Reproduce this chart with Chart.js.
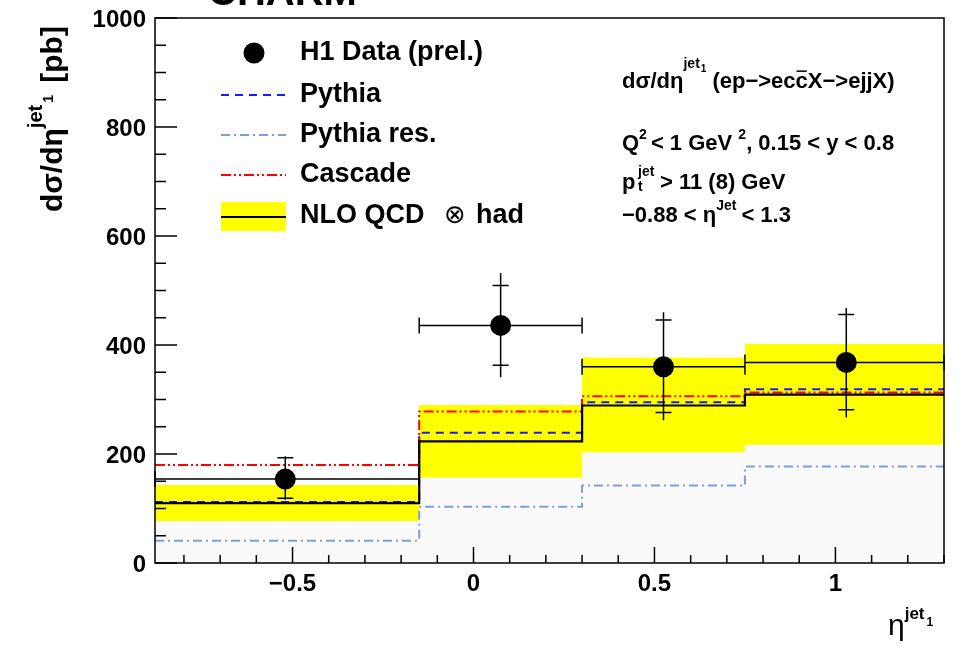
<!DOCTYPE html>
<html>
<head>
<meta charset="utf-8">
<script src="https://cdn.jsdelivr.net/npm/chart.js@4.4.0/dist/chart.umd.min.js"></script>
<style>
  html, body { margin: 0; padding: 0; background: #fff; }
  #wrap { width: 960px; height: 647px; }
</style>
</head>
<body>
<div id="wrap"><canvas id="c" width="960" height="647"></canvas></div>
<script>
// bins in eta(jet1) and the model predictions per bin (pb)
var binEdges = [-0.88, -0.15, 0.3, 0.75, 1.3];
var nloCentral = [110, 223, 289, 309];
var nloUp = [143, 290, 377, 402];
var nloDown = [77, 157, 203, 217];
var pythia = [112, 239, 295, 319];
var pythiaRes = [41, 103, 142, 177];
var cascade = [180, 278, 306, 313];

// H1 data points with inner (stat) and outer (total) error ends
var dataX = [-0.52, 0.075, 0.525, 1.03];
var dataY = [154, 436, 360, 368];
var statHi = [193, 509, 446, 456];
var statLo = [119, 363, 276, 281];
var totHi = [196, 532, 460, 468];
var totLo = [116, 341, 262, 267];

var xTicks = [-0.5, 0, 0.5, 1];
var xTickLabels = ['\u22120.5', '0', '0.5', '1'];
var yTicks = [0, 200, 400, 600, 800, 1000];
var yTickLabels = ['0', '200', '400', '600', '800', '1000'];

var FONT = '"Liberation Sans", Arial, "DejaVu Sans", sans-serif';

function steps(vals) {
    return binEdges.map(function (x, i) {
        return { x: x, y: vals[Math.min(i, vals.length - 1)] };
    });
}

// text with super/subscripts, parts drawn one after another
function rich(ctx, x, y, parts) {
    parts.forEach(function (p) {
        ctx.font = (p.w || 'bold') + ' ' + p.s + 'px ' + FONT;
        var w = ctx.measureText(p.t).width;
        var yy = y + (p.dy || 0);
        ctx.fillText(p.t, x, yy);
        if (p.over) ctx.fillRect(x + 1, yy - p.s * 0.8, w - 2, 1.5);
        x += w + (p.gap || 0);
    });
    return x;
}

var errorBars = {
    id: 'errorBars',
    beforeDatasetDraw: function (chart, args) {
        if (args.index !== 0) return;
        var ctx = chart.ctx, xs = chart.scales.x, ys = chart.scales.y;
        ctx.save();
        ctx.strokeStyle = '#000';
        ctx.lineWidth = 1.5;
        ctx.beginPath();
        for (var i = 0; i < dataX.length; i++) {
            var px = xs.getPixelForValue(dataX[i]);
            var py = ys.getPixelForValue(dataY[i]);
            var x0 = xs.getPixelForValue(binEdges[i]);
            var x1 = xs.getPixelForValue(binEdges[i + 1]);
            ctx.moveTo(x0, py); ctx.lineTo(x1, py);
            ctx.moveTo(x0, py - 8); ctx.lineTo(x0, py + 8);
            ctx.moveTo(x1, py - 8); ctx.lineTo(x1, py + 8);
            ctx.moveTo(px, ys.getPixelForValue(totHi[i]));
            ctx.lineTo(px, ys.getPixelForValue(totLo[i]));
            [statHi[i], statLo[i]].forEach(function (v) {
                var yy = ys.getPixelForValue(v);
                ctx.moveTo(px - 8, yy); ctx.lineTo(px + 8, yy);
            });
        }
        ctx.stroke();
        ctx.restore();
    }
};

var frameAndText = {
    id: 'frameAndText',
    afterDraw: function (chart) {
        var ctx = chart.ctx, a = chart.chartArea;
        var xs = chart.scales.x, ys = chart.scales.y;
        ctx.save();
        ctx.strokeStyle = '#000';
        ctx.fillStyle = '#000';
        ctx.lineWidth = 1.5;
        ctx.strokeRect(a.left, a.top, a.right - a.left, a.bottom - a.top);

        // inward ticks
        ctx.beginPath();
        for (var v = 0; v <= 1000; v += 50) {
            var yy = ys.getPixelForValue(v);
            ctx.moveTo(a.left, yy);
            ctx.lineTo(a.left + (v % 200 === 0 ? 22 : 11), yy);
        }
        for (var k = -8; k <= 13; k++) {
            var xx = xs.getPixelForValue(k / 10);
            ctx.moveTo(xx, a.bottom);
            ctx.lineTo(xx, a.bottom - (k % 5 === 0 ? 16 : 8));
        }
        ctx.stroke();

        ctx.font = 'bold 24px ' + FONT;
        ctx.textAlign = 'right';
        yTicks.forEach(function (t, i) {
            ctx.fillText(yTickLabels[i], 146, ys.getPixelForValue(t) + 9);
        });
        ctx.textAlign = 'center';
        xTicks.forEach(function (t, i) {
            ctx.fillText(xTickLabels[i], xs.getPixelForValue(t), 591);
        });
        ctx.textAlign = 'left';

        // cropped title at the very top
        ctx.font = 'bold 40px ' + FONT;
        ctx.fillText('CHARM', 208, 5);

        // axis titles
        rich(ctx, 888, 635, [
            { t: '\u03b7', s: 30, w: 'normal' },
            { t: 'jet', s: 17, dy: -16, gap: 2 },
            { t: '1', s: 12, dy: -9 }
        ]);
        ctx.save();
        ctx.translate(62, 212);
        ctx.rotate(-Math.PI / 2);
        rich(ctx, 0, 0, [
            { t: 'd\u03c3/d\u03b7', s: 30 },
            { t: 'jet', s: 20, dy: -20, gap: 2 },
            { t: '1', s: 14, dy: -9, gap: 4 },
            { t: ' [pb]', s: 30 }
        ]);
        ctx.restore();

        // legend
        var lx0 = 221, lx1 = 286, tx = 300;
        ctx.textBaseline = 'middle';
        ctx.beginPath();
        ctx.arc(254, 53, 10.5, 0, Math.PI * 2);
        ctx.fill();
        ctx.font = 'bold 27px ' + FONT;
        ctx.fillText('H1 Data (prel.)', tx, 53);
        ctx.fillText('Pythia', tx, 95);
        ctx.fillText('Pythia res.', tx, 135);
        ctx.fillText('Cascade', tx, 175);
        ctx.fillText('NLO QCD', tx, 216);
        ctx.font = 'normal 26px ' + FONT;
        ctx.fillText('\u2297', 444, 216);
        ctx.font = 'bold 27px ' + FONT;
        ctx.fillText('had', 476, 216);
        ctx.textBaseline = 'alphabetic';

        function sample(y, color, dash) {
            ctx.save();
            ctx.strokeStyle = color;
            ctx.lineWidth = 2;
            ctx.setLineDash(dash);
            ctx.beginPath();
            ctx.moveTo(lx0, y); ctx.lineTo(lx1, y);
            ctx.stroke();
            ctx.restore();
        }
        sample(95, '#1a1aff', [8, 6]);
        sample(135, '#7b9ee0', [9, 4, 2, 4]);
        sample(175, '#ff0000', [10, 3, 2, 3, 2, 3]);
        ctx.fillStyle = '#ffff00';
        ctx.fillRect(lx0, 202, lx1 - lx0, 29);
        sample(217, '#000', []);
        ctx.fillStyle = '#000';

        // selection text
        var bx = 622;
        rich(ctx, bx, 88, [
            { t: 'd\u03c3/d\u03b7', s: 22 },
            { t: 'jet', s: 14, dy: -20, gap: 1 },
            { t: '1', s: 10, dy: -16, gap: 6 },
            { t: '(ep\u2212>ec', s: 22 },
            { t: 'c', s: 22, over: true },
            { t: 'X\u2212>ejjX)', s: 22 }
        ]);
        rich(ctx, bx, 150, [
            { t: 'Q', s: 22 },
            { t: '2', s: 14, dy: -11, gap: 4 },
            { t: '< 1 GeV ', s: 22 },
            { t: '2', s: 14, dy: -11 },
            { t: ', 0.15 < y < 0.8', s: 22 }
        ]);
        rich(ctx, bx, 189, [{ t: 'p', s: 22 }]);
        rich(ctx, 638, 176, [{ t: 'jet', s: 14 }]);
        rich(ctx, 638, 191, [{ t: 't', s: 14 }]);
        rich(ctx, 660, 189, [{ t: '> 11 (8) GeV', s: 22 }]);
        rich(ctx, bx, 222, [
            { t: '\u22120.88 < \u03b7', s: 22 },
            { t: 'Jet', s: 14, dy: -12, gap: 5 },
            { t: '< 1.3', s: 22 }
        ]);
        ctx.restore();
    }
};

var chart = new Chart(document.getElementById('c'), {
    type: 'line',
    data: {
        datasets: [
            {
                label: 'H1 Data (prel.)',
                data: dataX.map(function (x, i) { return { x: x, y: dataY[i] }; }),
                showLine: false,
                pointRadius: 10.5,
                pointBackgroundColor: '#000',
                pointBorderWidth: 0,
                order: 1
            },
            {
                label: 'NLO QCD',
                data: steps(nloCentral),
                stepped: true,
                borderColor: '#000',
                borderWidth: 2.2,
                pointRadius: 0,
                fill: false,
                order: 3
            },
            {
                label: 'Cascade',
                data: steps(cascade),
                stepped: true,
                borderColor: '#ff0000',
                borderWidth: 2,
                borderDash: [10, 3, 2, 3, 2, 3],
                pointRadius: 0,
                fill: false,
                order: 4
            },
            {
                label: 'Pythia',
                data: steps(pythia),
                stepped: true,
                borderColor: '#1a1aff',
                borderWidth: 2,
                borderDash: [8, 6],
                pointRadius: 0,
                fill: false,
                order: 4
            },
            {
                label: 'Pythia res.',
                data: steps(pythiaRes),
                stepped: true,
                borderColor: '#7b9ee0',
                borderWidth: 2,
                borderDash: [9, 4, 2, 4],
                pointRadius: 0,
                fill: false,
                order: 5
            },
            {
                label: 'NLO up',
                data: steps(nloUp),
                stepped: true,
                borderWidth: 0,
                borderColor: 'rgba(0,0,0,0)',
                backgroundColor: '#ffff00',
                pointRadius: 0,
                fill: 6,
                order: 9
            },
            {
                label: 'NLO down',
                data: steps(nloDown),
                stepped: true,
                borderWidth: 0,
                borderColor: 'rgba(0,0,0,0)',
                backgroundColor: '#fafafa',
                pointRadius: 0,
                fill: 'origin',
                order: 10
            }
        ]
    },
    options: {
        responsive: false,
        animation: false,
        devicePixelRatio: 1,
        layout: { padding: { left: 155, right: 16, top: 18, bottom: 84 } },
        scales: {
            x: { type: 'linear', min: -0.88, max: 1.3, display: false },
            y: { type: 'linear', min: 0, max: 1000, display: false }
        },
        plugins: {
            legend: { display: false },
            tooltip: { enabled: false }
        }
    },
    plugins: [errorBars, frameAndText]
});
</script>
</body>
</html>
